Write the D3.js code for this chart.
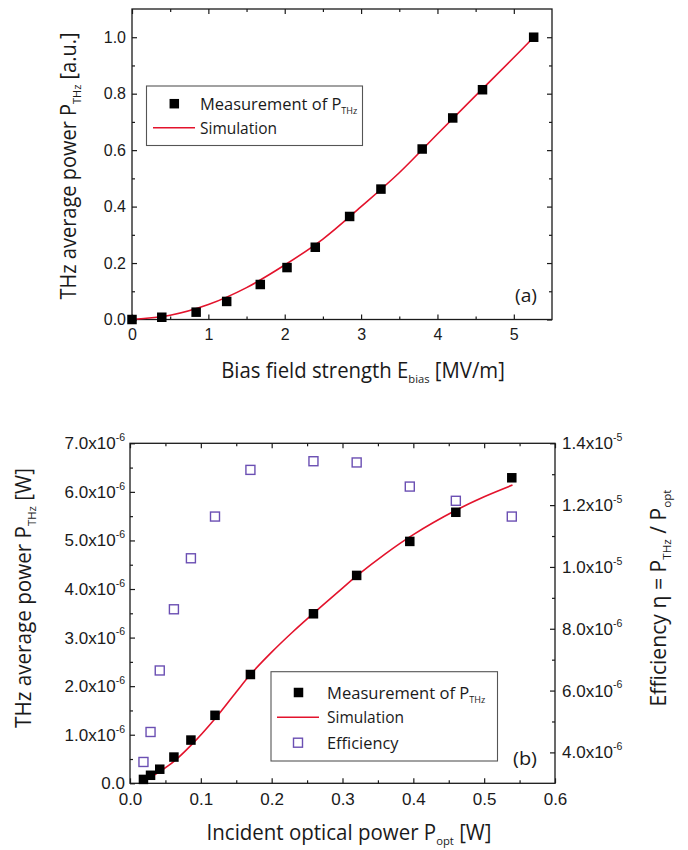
<!DOCTYPE html>
<html><head><meta charset="utf-8">
<script src="https://cdn.jsdelivr.net/npm/d3@7"></script>
<style>body{margin:0;background:#fff}</style>
</head><body>
<svg id="c" width="688" height="850"></svg>
<script>
// ---------- Panel (a) data ----------
const biasField    = [0, 0.39, 0.84, 1.24, 1.68, 2.03, 2.40, 2.85, 3.26, 3.80, 4.20, 4.59, 5.26];
const powerNorm    = [0, 0.008, 0.026, 0.064, 0.124, 0.184, 0.256, 0.365, 0.462, 0.604, 0.714, 0.814, 1.0];
const simField     = [0, 0.5, 1, 1.5, 2, 2.5, 3, 3.5, 4, 4.5, 5, 5.26];
const simPowerNorm = [0, 0.015, 0.053, 0.113, 0.193, 0.285, 0.40, 0.52, 0.657, 0.793, 0.928, 1.0];
const ticksAx = [0, 1, 2, 3, 4, 5];
const minorAx = [0.5, 1.5, 2.5, 3.5, 4.5];
const ticksAy = [0, 0.2, 0.4, 0.6, 0.8, 1.0];
const minorAy = [0.1, 0.3, 0.5, 0.7, 0.9];

// ---------- Panel (b) data ----------
const optPower   = [0.019, 0.029, 0.042, 0.062, 0.086, 0.120, 0.170, 0.259, 0.320, 0.395, 0.460, 0.539];
const thzPower   = [0.08e-6, 0.165e-6, 0.29e-6, 0.54e-6, 0.89e-6, 1.40e-6, 2.24e-6, 3.49e-6, 4.28e-6, 4.98e-6, 5.58e-6, 6.29e-6];
const efficiency = [3.69e-6, 4.66e-6, 6.65e-6, 8.63e-6, 10.28e-6, 11.63e-6, 13.14e-6, 13.42e-6, 13.38e-6, 12.60e-6, 12.14e-6, 11.63e-6];
const simOpt     = [0.019, 0.03, 0.045, 0.062, 0.086, 0.12, 0.15, 0.17, 0.2, 0.23, 0.259, 0.3, 0.32, 0.36, 0.4, 0.46, 0.5, 0.54];
const simThz     = [0.04e-6, 0.13e-6, 0.27e-6, 0.45e-6, 0.78e-6, 1.33e-6, 1.88e-6, 2.24e-6, 2.70e-6, 3.12e-6, 3.5e-6, 4.02e-6, 4.27e-6, 4.72e-6, 5.12e-6, 5.62e-6, 5.9e-6, 6.14e-6];
const ticksBx  = [0, 0.1, 0.2, 0.3, 0.4, 0.5, 0.6];
const minorBx  = [0.05, 0.15, 0.25, 0.35, 0.45, 0.55];
const ticksByL = [0, 1e-6, 2e-6, 3e-6, 4e-6, 5e-6, 6e-6, 7e-6];
const minorByL = [0.5e-6, 1.5e-6, 2.5e-6, 3.5e-6, 4.5e-6, 5.5e-6, 6.5e-6];
const ticksByR = [4e-6, 6e-6, 8e-6, 1e-5, 1.2e-5, 1.4e-5];
const minorByR = [5e-6, 7e-6, 9e-6, 1.1e-5, 1.3e-5];

const svg = d3.select("#c");
svg.append("rect").attr("width", 688).attr("height", 850).attr("fill", "#fff");

const TICKFONT = "'Liberation Sans', Arial, sans-serif";
const TITLEFONT = "'Open Sans', 'Noto Sans', sans-serif";
const INK = "#1a1a1a";
const RED = "#e3132c";
const PURPLE = "#6b4fb3";

function richText(g, parts, size, font, anchor) {
  const t = g.append("text").attr("font-family", font).attr("font-size", size)
    .attr("text-anchor", anchor || "middle").attr("fill", INK);
  let shift = 0;
  parts.forEach(([s, k]) => {
    const target = k === "sub" ? size * 0.22 : k === "sup" ? -size * 0.42 : 0;
    t.append("tspan").attr("dy", target - shift)
      .attr("font-size", k === "n" ? size : size * 0.55).text(s);
    shift = target;
  });
  return t;
}
function place(t, x, y, rot, targetLen) {
  const w = t.node().getBBox().width;
  const s = targetLen ? targetLen / w : 1;
  t.attr("transform", `translate(${x},${y}) rotate(${rot}) scale(${s},1)`);
  return t;
}
function sciLabel(textSel, d, size) {
  const t = d3.select(textSel);
  t.text(null);
  if (d === 0) { t.text("0.0"); return; }
  const e = Math.floor(Math.log10(d) + 1e-9);
  const m = (d / Math.pow(10, e)).toFixed(1);
  t.append("tspan").text(m + "x10");
  t.append("tspan").attr("dy", -size * 0.48).attr("font-size", size * 0.62).text(String(e));
}

function styleAxis(g, size) {
  g.select(".domain").remove();
  g.selectAll("line").attr("stroke", INK).attr("stroke-width", 1.2);
  g.attr("font-family", TICKFONT).attr("font-size", size);
  g.selectAll("text").attr("fill", INK);
}

function frame(x, y, xT, xM, yLT, yLM, opts) {
  const [x0, x1] = x.range(), [y0, y1] = y.range();
  const gb = svg.append("g").attr("transform", `translate(0,${y0})`)
    .call(d3.axisBottom(x).tickValues(xT).tickSizeInner(-5).tickSizeOuter(0).tickPadding(opts.xPad).tickFormat(opts.xFmt));
  styleAxis(gb, opts.size);
  styleAxis(svg.append("g").attr("transform", `translate(0,${y0})`)
    .call(d3.axisBottom(x).tickValues(xM).tickSizeInner(-3).tickSizeOuter(0).tickFormat("")), opts.size);
  styleAxis(svg.append("g").attr("transform", `translate(0,${y1})`)
    .call(d3.axisTop(x).tickValues(xT).tickSizeInner(-5).tickSizeOuter(0).tickFormat("")), opts.size);
  styleAxis(svg.append("g").attr("transform", `translate(0,${y1})`)
    .call(d3.axisTop(x).tickValues(xM).tickSizeInner(-3).tickSizeOuter(0).tickFormat("")), opts.size);
  const gl = svg.append("g").attr("transform", `translate(${x0},0)`)
    .call(d3.axisLeft(y).tickValues(yLT).tickSizeInner(-5).tickSizeOuter(0).tickPadding(opts.yPad).tickFormat(opts.yFmt || ""));
  styleAxis(gl, opts.size);
  styleAxis(svg.append("g").attr("transform", `translate(${x0},0)`)
    .call(d3.axisLeft(y).tickValues(yLM).tickSizeInner(-3).tickSizeOuter(0).tickFormat("")), opts.size);
  svg.append("rect").attr("x", x0).attr("y", y1).attr("width", x1 - x0).attr("height", y0 - y1)
    .attr("fill", "none").attr("stroke", INK).attr("stroke-width", 1.3);
  return { gb, gl };
}

// ================= Panel (a) =================
const xA = d3.scaleLinear([0, 5.5], [132, 552]);
const yA = d3.scaleLinear([0, 1.1], [319.5, 9]);
const fa = frame(xA, yA, ticksAx, minorAx, ticksAy, minorAy,
  { size: 16, xPad: 9, yPad: 6, xFmt: d3.format("d"), yFmt: d3.format(".1f") });
styleAxis(svg.append("g").attr("transform", `translate(552,0)`)
  .call(d3.axisRight(yA).tickValues(ticksAy).tickSizeInner(-5).tickSizeOuter(0).tickFormat("")), 16);
styleAxis(svg.append("g").attr("transform", `translate(552,0)`)
  .call(d3.axisRight(yA).tickValues(minorAy).tickSizeInner(-3).tickSizeOuter(0).tickFormat("")), 16);

const lineA = d3.line().x(i => xA(simField[i])).y(i => yA(simPowerNorm[i])).curve(d3.curveCatmullRom.alpha(0.5));
svg.append("path").attr("d", lineA(d3.range(simField.length)))
  .attr("fill", "none").attr("stroke", RED).attr("stroke-width", 1.6);
svg.append("g").selectAll("rect").data(biasField).join("rect")
  .attr("x", (d) => xA(d) - 4.75).attr("y", (d, i) => yA(powerNorm[i]) - 4.75)
  .attr("width", 9.5).attr("height", 9.5).attr("fill", "#000");

// legend (a)
svg.append("rect").attr("x", 146.5).attr("y", 86).attr("width", 216).attr("height", 59.5)
  .attr("fill", "#fff").attr("stroke", "#555").attr("stroke-width", 1.1);
svg.append("rect").attr("x", 174.3 - 4.75).attr("y", 103.7 - 4.75).attr("width", 9.5).attr("height", 9.5).attr("fill", "#000");
svg.append("line").attr("x1", 153).attr("x2", 195).attr("y1", 127.7).attr("y2", 127.7).attr("stroke", RED).attr("stroke-width", 1.6);
place(richText(svg, [["Measurement of P", "n"], ["THz", "sub"]], 17, TITLEFONT, "start"), 200, 110, 0, 158);
place(richText(svg, [["Simulation", "n"]], 17, TITLEFONT, "start"), 200, 133.5, 0, 77);
place(richText(svg, [["(a)", "n"]], 19, TITLEFONT, "middle"), 526, 302, 0, 22);

// titles (a)
place(richText(svg, [["THz average power P", "n"], ["THz", "sub"], [" [a.u.]", "n"]], 21, TITLEFONT, "middle"), 76, 166, -90, 267);
place(richText(svg, [["Bias field strength E", "n"], ["bias", "sub"], [" [MV/m]", "n"]], 21, TITLEFONT, "middle"), 363, 378, 0, 284);

// ================= Panel (b) =================
const xB = d3.scaleLinear([0, 0.6], [130, 555]);
const yBL = d3.scaleLinear([0, 7e-6], [783.3, 443.3]);
const yBR = d3.scaleLinear([3e-6, 1.4e-5], [783.3, 443.3]);
const fb = frame(xB, yBL, ticksBx, minorBx, ticksByL, minorByL,
  { size: 17, xPad: 10, yPad: 5, xFmt: d3.format(".1f"), yFmt: d3.format(".1e") });
fb.gl.selectAll(".tick text").each(function (d) { sciLabel(this, d, 17); });

const gr = svg.append("g").attr("transform", `translate(555,0)`)
  .call(d3.axisRight(yBR).tickValues(ticksByR).tickSizeInner(-5).tickSizeOuter(0).tickPadding(7).tickFormat(d3.format(".1e")));
styleAxis(gr, 17);
gr.selectAll(".tick text").each(function (d) { sciLabel(this, d, 17); });
styleAxis(svg.append("g").attr("transform", `translate(555,0)`)
  .call(d3.axisRight(yBR).tickValues(minorByR).tickSizeInner(-3).tickSizeOuter(0).tickFormat("")), 17);

const lineB = d3.line().x(i => xB(simOpt[i])).y(i => yBL(simThz[i])).curve(d3.curveCatmullRom.alpha(0.5));
svg.append("path").attr("d", lineB(d3.range(simOpt.length)))
  .attr("fill", "none").attr("stroke", RED).attr("stroke-width", 1.6);
svg.append("g").selectAll("rect").data(optPower).join("rect")
  .attr("x", d => xB(d) - 4.75).attr("y", (d, i) => yBL(thzPower[i]) - 4.75)
  .attr("width", 9.5).attr("height", 9.5).attr("fill", "#000");
svg.append("g").selectAll("rect").data(optPower).join("rect")
  .attr("x", d => xB(d) - 4.5).attr("y", (d, i) => yBR(efficiency[i]) - 4.5)
  .attr("width", 9).attr("height", 9).attr("fill", "none").attr("stroke", PURPLE).attr("stroke-width", 1.4);

// legend (b)
svg.append("rect").attr("x", 271).attr("y", 671.7).attr("width", 226.5).attr("height", 89.3)
  .attr("fill", "#fff").attr("stroke", "#555").attr("stroke-width", 1.1);
svg.append("rect").attr("x", 298.5 - 4.75).attr("y", 692.5 - 4.75).attr("width", 9.5).attr("height", 9.5).attr("fill", "#000");
svg.append("line").attr("x1", 277).attr("x2", 319).attr("y1", 717.3).attr("y2", 717.3).attr("stroke", RED).attr("stroke-width", 1.6);
svg.append("rect").attr("x", 298 - 4.5).attr("y", 742.7 - 4.5).attr("width", 9).attr("height", 9)
  .attr("fill", "none").attr("stroke", PURPLE).attr("stroke-width", 1.4);
place(richText(svg, [["Measurement of P", "n"], ["THz", "sub"]], 17, TITLEFONT, "start"), 327, 699, 0, 159);
place(richText(svg, [["Simulation", "n"]], 17, TITLEFONT, "start"), 327, 723, 0, 77);
place(richText(svg, [["Efficiency", "n"]], 17, TITLEFONT, "start"), 327, 749, 0, 72);
place(richText(svg, [["(b)", "n"]], 19, TITLEFONT, "middle"), 525, 765, 0, 24);

// titles (b)
place(richText(svg, [["THz average power P", "n"], ["THz", "sub"], [" [W]", "n"]], 21, TITLEFONT, "middle"), 31, 598, -90, 260);
place(richText(svg, [["Incident optical power P", "n"], ["opt", "sub"], [" [W]", "n"]], 21, TITLEFONT, "middle"), 349, 840, 0, 285);
place(richText(svg, [["Efficiency  η = P", "n"], ["THz", "sub"], [" / P", "n"], ["opt", "sub"]], 21, TITLEFONT, "middle"), 666, 598, -90, 217);
</script>
</body></html>
